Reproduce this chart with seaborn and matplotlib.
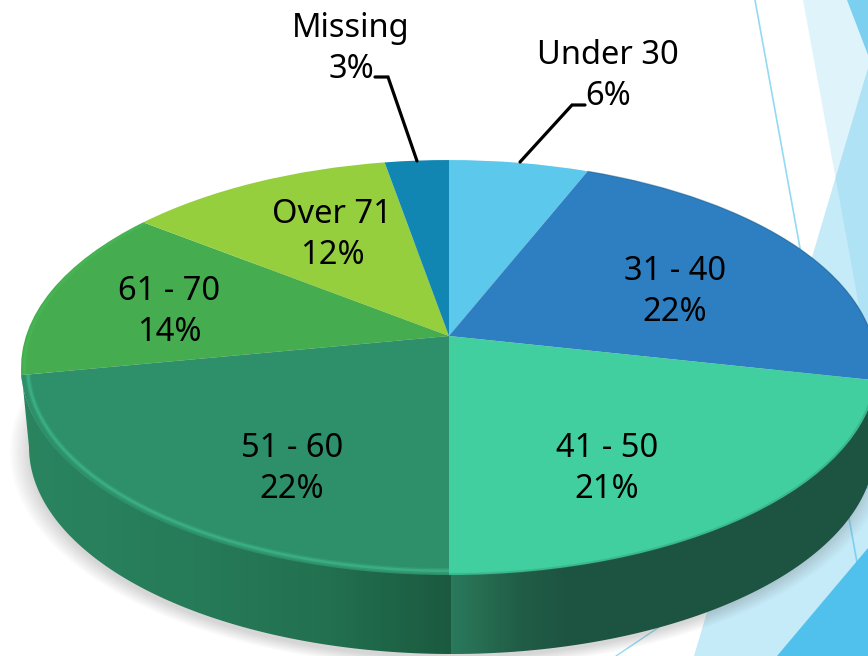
import numpy as np
import matplotlib
matplotlib.use("Agg")
import matplotlib.pyplot as plt
import matplotlib.transforms as mtransforms
from matplotlib.colors import LinearSegmentedColormap
from matplotlib.patches import Polygon
import seaborn as sns

categories = ["Under 30", "31 - 40", "41 - 50", "51 - 60", "61 - 70", "Over 71", "Missing"]
pct_labels = [6, 22, 21, 22, 14, 12, 3]
# slice sizes as measured on the picture, the printed labels are rounded
slice_sizes = [6.1, 22.3, 21.6, 22.0, 13.5, 11.7, 2.8]
slice_colors = ["#5bc8ec", "#2e7fc2", "#42cf9f", "#2d906b", "#45ad4f", "#95cf3e", "#1186b3"]

# label centres in pixels, same order as categories
label_x = [608, 675, 607, 292, 169, 332, 351]
label_y = [76, 292, 469, 469, 312, 235, 49]

W, H = 868, 656
CX, CY_APEX = 449, 336
K, A, B = 0.152, 423, 202.7
CY_EDGE, RX, RY = 367, 428, 207
DEPTH = 80


class TiltedDisc(mtransforms.Transform):
    # unit circle seen from above, apex sits above the middle of the ellipse
    input_dims = 2
    output_dims = 2

    def transform_non_affine(self, xy):
        xy = np.asarray(xy)
        d = 1 + K * xy[:, 1]
        return np.column_stack([CX + A * xy[:, 0] / d, CY_APEX - B * xy[:, 1] / d])


sns.set_theme(style="white")
plt.rcParams["font.family"] = ["Noto Sans", "DejaVu Sans"]

fig = plt.figure(figsize=(W / 100, H / 100), dpi=100)
ax = fig.add_axes([0, 0, 1, 1])

# background decoration
ax.plot([755, 872], [0, 645], color="#93daf3", lw=1.2, zorder=1)
ax.plot([616, 868], [656, 487], color="#93daf3", lw=1.0, zorder=1)
ax.fill([868, 694, 868], [68, 656, 656], color="#4fc0ea", alpha=0.33, lw=0, zorder=1)
ax.fill([803, 868, 868], [0, 0, 355], color="#4fc0ea", alpha=0.18, lw=0, zorder=1)
ax.fill([847, 868, 868], [0, 0, 55], color="#7bd0f0", lw=0, zorder=1)
ax.fill([777, 868, 868], [656, 548, 656], color="#50c1ec", lw=0, zorder=1)

# soft shadow under the disc
X, Y = np.meshgrid(np.arange(W) + 0.5, np.arange(H) + 0.5)
dist = np.sqrt(((X - 450) / 441) ** 2 + ((Y - 452) / 216) ** 2)
shadow = np.zeros((H, W, 4))
shadow[..., :3] = 0.35
shadow[..., 3] = 0.25 * np.clip((1.0 - dist) / 0.05, 0, 1)
ax.imshow(shadow, extent=(0, W, H, 0), aspect="auto", zorder=2)

# side wall
t = np.radians(np.linspace(180, 0, 200))
upper = np.column_stack([CX + RX * np.cos(t), CY_EDGE + RY * np.sin(t)])
lower = np.column_stack([CX + 3 + (RX - 5) * np.cos(t), CY_EDGE + DEPTH + RY * np.sin(t)])
wall = Polygon(np.vstack([upper, lower[::-1]]), closed=True, fc="none", ec="none", zorder=3)
ax.add_patch(wall)
stops = [(0.0, "#2a8660"), (0.24, "#267a58"), (0.38, "#22704f"), (0.518, "#1b5a40"),
         (0.519, "#2a7a5c"), (0.60, "#215d46"), (0.66, "#1c5341"), (1.0, "#1c5341")]
wall_cmap = LinearSegmentedColormap.from_list("wall", stops)
im = ax.imshow(np.linspace(0, 1, W)[None, :], extent=(0, W, H, 0), aspect="auto",
               cmap=wall_cmap, vmin=0, vmax=1, zorder=3)
im.set_clip_path(wall)

# top of the pie
palette = sns.color_palette(slice_colors)
wedges, _ = ax.pie(slice_sizes, colors=palette, startangle=90, counterclock=False,
                   wedgeprops=dict(lw=0))
disc = TiltedDisc() + ax.transData
for w in wedges:
    w.set_transform(disc)
    w.set_zorder(4)

# bevel along the rim
edges = np.cumsum([0] + slice_sizes) / sum(slice_sizes)


def rim(i, r, color, lw, alpha):
    arc = np.linspace(edges[i], edges[i + 1], 200) * 2 * np.pi
    ax.plot(r * np.sin(arc), r * np.cos(arc), transform=disc, color=color, lw=lw, alpha=alpha,
            zorder=5, solid_capstyle="butt")


rim(3, 0.985, "#3fb58a", 4, 0.3)
rim(3, 0.985, "#3fb58a", 1.8, 0.7)
rim(4, 0.992, "#4cc05a", 2, 0.4)
rim(2, 0.998, "#2a7a5c", 2, 0.25)
rim(1, 0.999, "#1c5a80", 1, 0.4)

# leader lines
ax.plot([375, 388, 417], [77, 77, 161], color="black", lw=2.3, zorder=6, solid_joinstyle="miter")
ax.plot([585, 572, 520], [105, 105, 162], color="black", lw=2.3, zorder=6, solid_joinstyle="miter")

for cat, val, lx, ly in zip(categories, pct_labels, label_x, label_y):
    ax.text(lx, ly, f"{cat}\n{val}%", ha="center", va="center", fontsize=23.5,
            color="black", linespacing=1.32, zorder=7)

ax.set_aspect("auto")
ax.set_xlim(0, W)
ax.set_ylim(H, 0)
ax.axis("off")

fig.savefig("out.png", dpi=100, facecolor="white")
